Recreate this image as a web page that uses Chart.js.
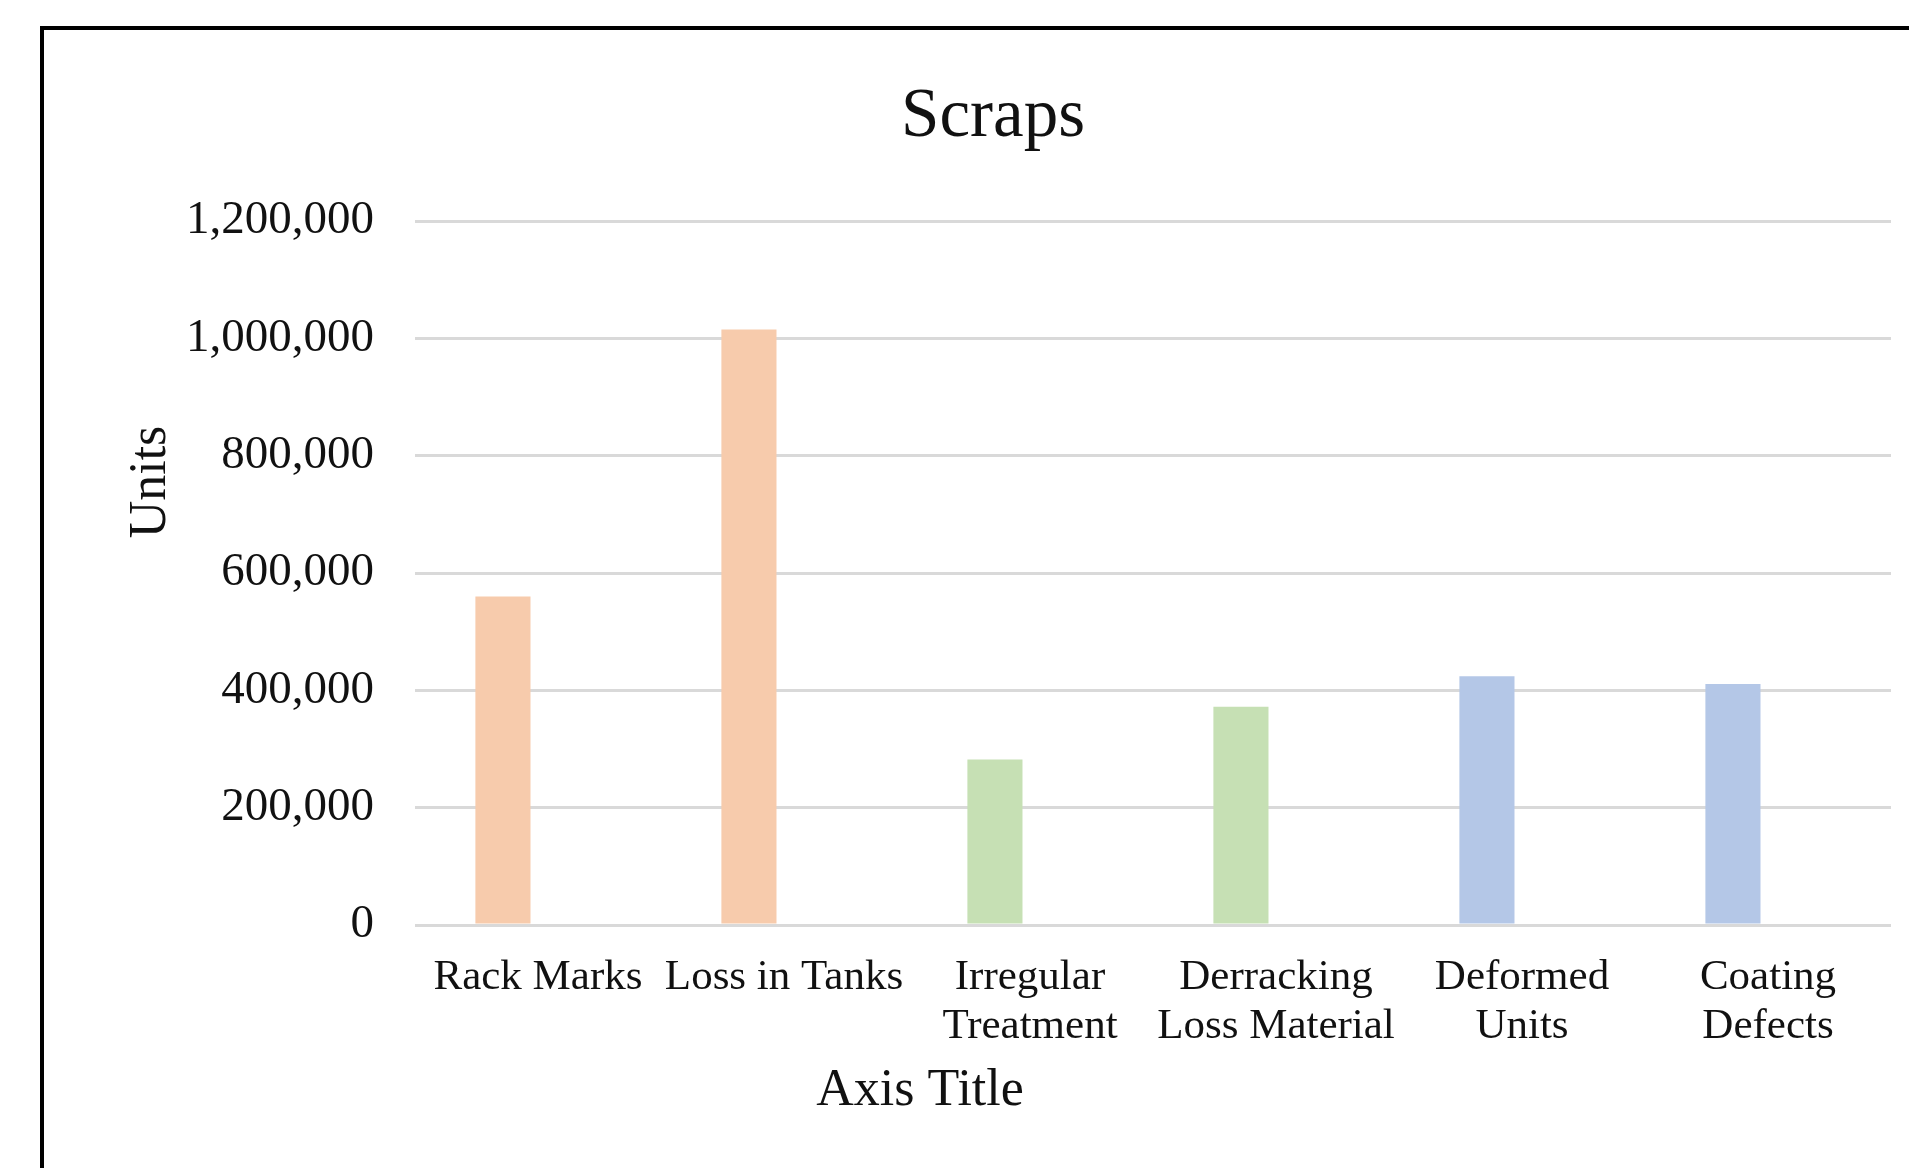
<!DOCTYPE html>
<html>
<head>
<meta charset="utf-8">
<title>Scraps</title>
<script src="https://cdn.jsdelivr.net/npm/chart.js@4.4.1/dist/chart.umd.min.js"></script>
<style>
    html, body { margin: 0; padding: 0; background: #fff; overflow: hidden; }
    #wrap { position: relative; width: 1909px; height: 1168px; }
</style>
</head>
<body>
<div id="wrap"><canvas id="scrapChart"></canvas></div>
<script>
// data
const categories = [
    'Rack Marks',
    'Loss in Tanks',
    ['Irregular', 'Treatment'],
    ['Derracking', 'Loss Material'],
    ['Deformed', 'Units'],
    ['Coating', 'Defects']
];
const scrapUnits = [560000, 1015000, 282000, 372000, 424000, 411000];
const barColors = ['#f7cbac', '#f7cbac', '#c6e0b4', '#c6e0b4', '#b4c7e7', '#b4c7e7'];
// second (empty) series in the original chart, keeps the bars left of the tick
const emptySeries = [null, null, null, null, null, null];
const yMax = 1200000;
const yStep = 200000;

const chartTitle = 'Scraps';
const yTitle = 'Units';
const xTitle = 'Axis Title';

const serif = "'Liberation Serif', 'Times New Roman', serif";
const textColor = '#111';

// frame + titles drawn on the canvas
const decorPlugin = {
    id: 'decor',
    beforeDraw(chart) {
        const ctx = chart.ctx;
        ctx.save();
        ctx.fillStyle = '#fff';
        ctx.fillRect(0, 0, chart.width, chart.height);
        ctx.strokeStyle = '#000';
        ctx.lineWidth = 4;
        ctx.beginPath();
        ctx.moveTo(42, chart.height);
        ctx.lineTo(42, 28);
        ctx.lineTo(chart.width, 28);
        ctx.stroke();
        ctx.restore();
    },
    afterDraw(chart) {
        const ctx = chart.ctx;
        ctx.save();
        ctx.fillStyle = textColor;
        ctx.textAlign = 'center';
        ctx.textBaseline = 'alphabetic';

        ctx.font = '69px ' + serif;
        ctx.fillText(chartTitle, 993, 136);

        ctx.font = '52px ' + serif;
        ctx.fillText(xTitle, 920, 1105);

        ctx.translate(165, 482);
        ctx.rotate(-Math.PI / 2);
        ctx.fillText(yTitle, 0, 0);
        ctx.restore();
    }
};

const ctx = document.getElementById('scrapChart').getContext('2d');
const scrapChart = new Chart(ctx, {
    type: 'bar',
    data: {
        labels: categories,
        datasets: [{
            label: 'Scraps',
            data: scrapUnits,
            backgroundColor: barColors,
            borderWidth: 0,
            categoryPercentage: 0.57,
            barPercentage: 0.786
        }, {
            label: 'empty',
            data: emptySeries,
            backgroundColor: 'rgba(0,0,0,0)',
            borderWidth: 0,
            categoryPercentage: 0.57,
            barPercentage: 0.786
        }]
    },
    options: {
        responsive: true,
        maintainAspectRatio: false,
        animation: false,
        layout: {
            padding: { top: 221, right: 18, bottom: 103, left: 0 }
        },
        plugins: {
            legend: { display: false },
            title: { display: false },
            tooltip: { enabled: false }
        },
        scales: {
            x: {
                grid: { display: false },
                border: { display: false },
                ticks: {
                    color: textColor,
                    padding: 20,
                    maxRotation: 0,
                    autoSkip: false,
                    font: { family: serif, size: 43, lineHeight: 1.14 }
                },
                afterFit(scale) { scale.height = 140; }
            },
            y: {
                min: 0,
                max: yMax,
                grid: {
                    color: '#d9d9d9',
                    lineWidth: 3,
                    drawTicks: false
                },
                border: { display: false },
                ticks: {
                    stepSize: yStep,
                    color: textColor,
                    padding: 41,
                    font: { family: serif, size: 47 },
                    callback: value => value.toLocaleString('en-US')
                },
                afterFit(scale) { scale.width = 415; }
            }
        }
    },
    plugins: [decorPlugin]
});
</script>
</body>
</html>
